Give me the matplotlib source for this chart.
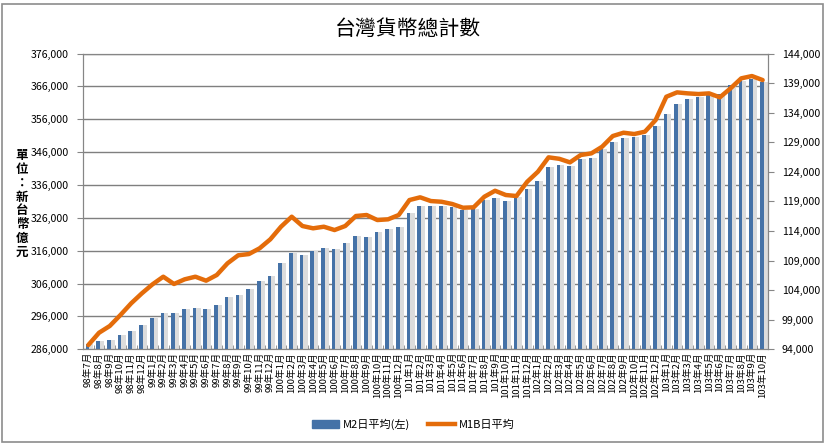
import numpy as np
import matplotlib
matplotlib.use('Agg')
import matplotlib.pyplot as plt
from matplotlib.patches import Rectangle
from matplotlib.lines import Line2D
from matplotlib.ticker import FuncFormatter, FixedLocator

plt.rcParams['font.family'] = ['Noto Sans CJK TC', 'DejaVu Sans']

# months 98年7月 .. 103年10月
months = []
for yr in range(98, 104):
    for mo in range(1, 13):
        if yr == 98 and mo < 7:
            continue
        if yr == 103 and mo > 10:
            continue
        months.append('%d年%d月' % (yr, mo))

# M2 daily average (left axis), NT$ 100 million
m2 = [287600, 288500, 288800, 290300, 291600, 293400,
      295500, 297000, 297000, 298200, 298500, 298200, 299400, 301900, 302500, 304300, 306700, 308200,
      312200, 315200, 314600, 315800, 316900, 316400, 318200, 320600, 320300, 321600, 322500, 323100,
      327600, 329700, 329700, 329700, 329400, 328500, 328800, 331300, 331900, 331000, 332200, 334900,
      337300, 341600, 342100, 341700, 343900, 344200, 346800, 349000, 350300, 350600, 351200, 353800,
      357600, 360600, 362100, 362700, 363300, 363800, 366300, 367600, 368100, 367300]

# M1B daily average (right axis)
m1b = [94730, 96800, 97940, 99800, 101770, 103460,
       104990, 106270, 105040, 105830, 106270, 105600, 106560, 108530, 109890, 110100, 111070, 112590,
       114720, 116410, 114840, 114450, 114720, 114160, 114840, 116530, 116700, 115850, 115970, 116700,
       119230, 119690, 119060, 118940, 118560, 117930, 118000, 119790, 120800, 120080, 119910, 122320,
       124010, 126450, 126200, 125600, 126840, 127120, 128240, 130050, 130610, 130390, 130780, 132750,
       136690, 137430, 137260, 137150, 137260, 136590, 138110, 139800, 140190, 139510]

left_ticks = list(range(286000, 376001, 10000))
right_ticks = list(range(94000, 144001, 5000))

W, H = 827, 445
fig = plt.figure(figsize=(W / 100, H / 100), dpi=100)

# chart border
fig.patches.append(Rectangle((2 / W, 1 - 442 / H), 821 / W, 438 / H, transform=fig.transFigure,
                             fill=False, edgecolor='#8c8c8c', linewidth=1.2))

l, r, t, b = 83, 768, 53.5, 349.3
ax = fig.add_axes([l / W, 1 - b / H, (r - l) / W, (b - t) / H])

x = np.arange(len(months))
bar_col = '#4572a7'

# faint shadow to the right of each bar
ax.bar(x + 0.28, [v - 286000 for v in m2], bottom=286000, width=0.4, color='#dcdcdc', zorder=2)
ax.bar(x - 0.08, [v - 286000 for v in m2], bottom=286000, width=0.34, color=bar_col, zorder=3)

ax.set_xlim(-0.5, len(months) - 0.5)
ax.set_ylim(286000, 376000)
ax.set_yticks(left_ticks)
ax.yaxis.set_major_formatter(FuncFormatter(lambda v, p: '{:,.0f}'.format(v)))
ax.grid(axis='y', color='#7f7f7f', linewidth=1.0, zorder=1)
ax.set_axisbelow(True)

ax.set_xticks(x)
ax.set_xticklabels(months, rotation=90, fontsize=6.9)
ax.xaxis.set_minor_locator(FixedLocator(np.arange(-0.5, len(months), 1)))
ax.tick_params(axis='x', which='major', length=0, pad=2)
ax.tick_params(axis='x', which='minor', length=3, direction='in', color='#868686')
ax.tick_params(axis='y', labelsize=7.6, length=4, color='#868686', pad=6)

for s in ax.spines.values():
    s.set_color('#868686')

ax2 = ax.twinx()
ax2.plot(x, m1b, color='#e46c0a', linewidth=3.2, solid_joinstyle='round', solid_capstyle='round', zorder=5)
ax2.set_ylim(94000, 144000)
ax2.set_yticks(right_ticks)
ax2.yaxis.set_major_formatter(FuncFormatter(lambda v, p: '{:,.0f}'.format(v)))
ax2.tick_params(axis='y', labelsize=7.6, length=4, color='#868686', pad=6)
for s in ax2.spines.values():
    s.set_color('#868686')

fig.text(408 / W, 1 - 29 / H, '台灣貨幣總計數', ha='center', va='center', fontsize=15)

fig.text(22 / W, 1 - 204 / H, '\n'.join('單位：新台幣億元'), ha='center', va='center',
         fontsize=9, fontweight='bold', linespacing=1.08)

handles = [Rectangle((0, 0), 1, 0.4, color=bar_col),
           Line2D([0], [0], color='#e46c0a', linewidth=3.2)]
fig.legend(handles, ['M2日平均(左)', 'M1B日平均'], loc='center', bbox_to_anchor=(413 / W, 1 - 424 / H),
           ncol=2, frameon=False, fontsize=8, handlelength=2.5, columnspacing=1.6, handletextpad=0.3)

fig.savefig('out.png', dpi=100)
